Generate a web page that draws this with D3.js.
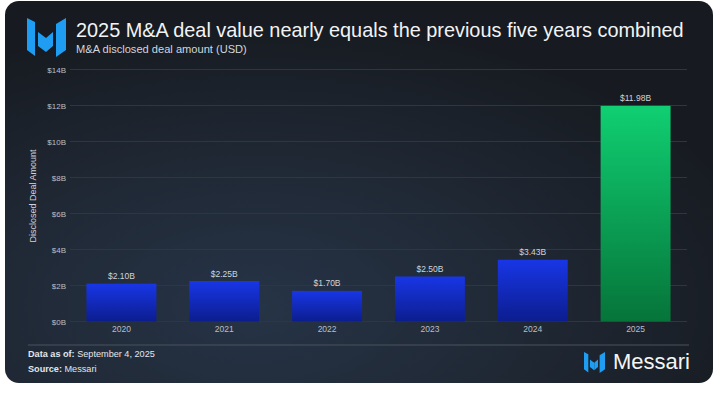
<!DOCTYPE html>
<html>
<head>
<meta charset="utf-8">
<script src="https://cdn.jsdelivr.net/npm/d3@7"></script>
<style>
  html, body { margin: 0; padding: 0; background: #ffffff; }
  svg { display: block; }
  text { font-family: "Liberation Sans", Arial, Helvetica, sans-serif; }
</style>
</head>
<body>
<svg id="chart" width="726" height="397"></svg>
<script>
const years = ["2020", "2021", "2022", "2023", "2024", "2025"];
const values = [2.10, 2.25, 1.70, 2.50, 3.43, 11.98];
const valueLabels = ["$2.10B", "$2.25B", "$1.70B", "$2.50B", "$3.43B", "$11.98B"];
const yTicks = [0, 2, 4, 6, 8, 10, 12, 14];
const yTickLabels = ["$0B", "$2B", "$4B", "$6B", "$8B", "$10B", "$12B", "$14B"];
const highlightYear = "2025";

const title = "2025 M&A deal value nearly equals the previous five years combined";
const subtitle = "M&A disclosed deal amount (USD)";
const yTitle = "Disclosed Deal Amount";
const footDateLabel = "Data as of:";
const footDate = "September 4, 2025";
const footSourceLabel = "Source:";
const footSource = "Messari";
const brand = "Messari";

const svg = d3.select("#chart");
const defs = svg.append("defs");

// card background gradient
const bg = defs.append("radialGradient").attr("id", "bgGrad")
  .attr("cx", "0.35").attr("cy", "0.8").attr("r", "0.75");
bg.append("stop").attr("offset", "0%").attr("stop-color", "#263447");
bg.append("stop").attr("offset", "55%").attr("stop-color", "#1f2733");
bg.append("stop").attr("offset", "100%").attr("stop-color", "#171b21");

const blueG = defs.append("linearGradient").attr("id", "blueGrad")
  .attr("x1", 0).attr("y1", 0).attr("x2", 0).attr("y2", 1);
blueG.append("stop").attr("offset", "0%").attr("stop-color", "#1836e6");
blueG.append("stop").attr("offset", "100%").attr("stop-color", "#0c1d8e");

const greenG = defs.append("linearGradient").attr("id", "greenGrad")
  .attr("x1", 0).attr("y1", 0).attr("x2", 0).attr("y2", 1);
greenG.append("stop").attr("offset", "0%").attr("stop-color", "#10cf72");
greenG.append("stop").attr("offset", "100%").attr("stop-color", "#067439");

// card
svg.append("rect").attr("x", 5).attr("y", 1).attr("width", 708).attr("height", 382)
  .attr("rx", 14).attr("fill", "url(#bgGrad)");

// logo helper
function drawLogo(g, s) {
  const pts = [
    [[0,0],[8,4],[8,38],[0,32]],
    [[11,14],[19,20],[19,34],[11,28]],
    [[19,20],[26,14],[26,28],[19,34]],
    [[29,6],[39,0],[39,32],[29,39]]
  ];
  pts.forEach(p => {
    g.append("polygon")
      .attr("points", p.map(d => [d[0]*s, d[1]*s].join(",")).join(" "))
      .attr("fill", "#1e9df2");
  });
}
drawLogo(svg.append("g").attr("transform", "translate(27,18)"), 1);

function fitText(sel, target) {
  const w = sel.node().getComputedTextLength();
  const fs = parseFloat(sel.attr("font-size"));
  sel.attr("font-size", fs * target / w);
}

const t = svg.append("text").attr("x", 76).attr("y", 37)
  .attr("font-size", 20).attr("fill", "#f2f3f5").text(title);
fitText(t, 608);

const st = svg.append("text").attr("x", 76).attr("y", 53)
  .attr("font-size", 11).attr("fill", "#d2d6dc").text(subtitle);
fitText(st, 171);

// scales
const x = d3.scaleBand().domain(years).range([70, 687])
  .paddingInner(0.32).paddingOuter(0.16);
const y = d3.scaleLinear().domain([0, 14]).range([321.5, 69.5]);

// grid
svg.append("g").selectAll("line").data(yTicks).join("line")
  .attr("x1", 70).attr("x2", 687)
  .attr("y1", d => y(d)).attr("y2", d => y(d))
  .attr("stroke", "#2f3640").attr("stroke-width", 1);

// y axis labels
const yAxis = d3.axisLeft(y).tickValues(yTicks)
  .tickFormat((d, i) => yTickLabels[i]).tickSize(0).tickPadding(0);
const yg = svg.append("g").attr("transform", "translate(66,0)").call(yAxis);
yg.select(".domain").remove();
yg.selectAll("text").attr("font-size", 8).attr("fill", "#b9bec6")
  .attr("font-family", "Liberation Sans, Arial, sans-serif");

// x axis labels
const xAxis = d3.axisBottom(x).tickSize(0).tickPadding(0);
const xg = svg.append("g").attr("transform", "translate(0,326)").call(xAxis);
xg.select(".domain").remove();
xg.selectAll("text").attr("font-size", 8.5).attr("fill", "#b9bec6")
  .attr("font-family", "Liberation Sans, Arial, sans-serif");

// bars
svg.append("g").selectAll("rect").data(years).join("rect")
  .attr("x", d => x(d)).attr("width", x.bandwidth())
  .attr("y", (d, i) => y(values[i]))
  .attr("height", (d, i) => y(0) - y(values[i]))
  .attr("fill", d => d === highlightYear ? "url(#greenGrad)" : "url(#blueGrad)");

// value labels
svg.append("g").selectAll("text").data(years).join("text")
  .attr("x", d => x(d) + x.bandwidth() / 2)
  .attr("y", (d, i) => y(values[i]) - 4.5)
  .attr("text-anchor", "middle").attr("font-size", 8.5)
  .attr("fill", "#d0d4da").text((d, i) => valueLabels[i]);

// y title
svg.append("text").attr("transform", "translate(36,196) rotate(-90)")
  .attr("text-anchor", "middle").attr("font-size", 9)
  .attr("fill", "#d0d4da").text(yTitle);

// footer separator
svg.append("line").attr("x1", 28).attr("x2", 689).attr("y1", 345).attr("y2", 345)
  .attr("stroke", "#4a525d").attr("stroke-width", 1);

const f1 = svg.append("text").attr("x", 28).attr("y", 357).attr("font-size", 9).attr("fill", "#e4e6ea");
f1.append("tspan").attr("font-weight", "bold").text(footDateLabel + " ");
f1.append("tspan").text(footDate);
fitText(f1, 127);
const f2 = svg.append("text").attr("x", 28).attr("y", 372).attr("font-size", f1.attr("font-size")).attr("fill", "#e4e6ea");
f2.append("tspan").attr("font-weight", "bold").text(footSourceLabel + " ");
f2.append("tspan").text(footSource);

// brand
drawLogo(svg.append("g").attr("transform", "translate(584,352)"), 21/39);
const b = svg.append("text").attr("x", 613).attr("y", 369)
  .attr("font-size", 22).attr("fill", "#f4f5f7").text(brand);
fitText(b, 77);
</script>
</body>
</html>
